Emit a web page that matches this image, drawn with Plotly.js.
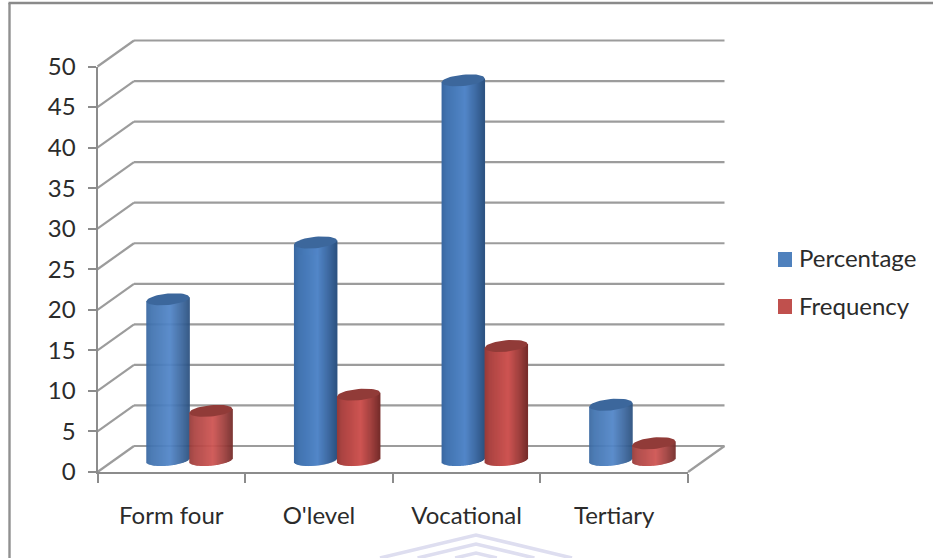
<!DOCTYPE html>
<html><head><meta charset="utf-8">
<script src="https://cdn.plot.ly/plotly-3.0.1.min.js"></script>
<style>html,body{margin:0;padding:0;background:#fff}</style>
</head><body><div id="chart" style="width:933px;height:558px"></div>
<script>
var categories = ["Form four", "O'level", "Vocational", "Tertiary"];
var percentage = [20, 27, 47, 7];
var frequency = [6, 8, 14, 2];
var yTicks = [0,5,10,15,20,25,30,35,40,45,50];

var W=933,H=558,L=97.5,R=688,T=66.5,B=472;
var pxX=(R-L)/4, pxY=(B-T)/50;
function ux(px){return px/pxX;}
function uy(px){return px/pxY;}
var gridColor='#9c9c9c', axisColor='#8c8c8c';
var traces=[];

// depth walls, drawn on a hidden pair of axes that shares the front scale but has room for the depth offset
var depthX=36.5, depthY=26, pad=6;
var backDx=ux(depthX), backDy=uy(depthY);
var gx=[],gy=[],dx=[],dy=[];
yTicks.forEach(function(t,i){
  gx.push(-0.5+backDx, 3.5+backDx, null); gy.push(t+backDy,t+backDy,null);
  dx.push(-0.5,-0.5+backDx,null); dy.push(t,t+backDy,null);
});
dx.push(3.5,3.5+backDx,null); dy.push(0,backDy,null);
var common={type:'scatter',mode:'lines',xaxis:'x',yaxis:'y',hoverinfo:'skip',showlegend:false};
traces.push(Object.assign({},common,{x:gx,y:gy,line:{color:gridColor,width:2.2}}));
traces.push(Object.assign({},common,{x:dx,y:dy,line:{color:gridColor,width:2.2}}));

// cylinders
var floorDy=uy(12);
var bPx=5.7, tiltPx=2, strips=43;
function lerp(a,b,t){return a+(b-a)*t;}
function shade(stops,t){
  for(var i=1;i<stops.length;i++){ if(t<=stops[i][0]){
    var s=stops[i-1],e=stops[i],k=(t-s[0])/(e[0]-s[0]);
    return 'rgb('+[1,2,3].map(function(j){return Math.round(lerp(s[j],e[j],k));}).join(',')+')';
  }}
  var l=stops[stops.length-1]; return 'rgb('+l[1]+','+l[2]+','+l[3]+')';
}
var blueStops=[[0,58,104,160],[0.12,66,116,176],[0.55,82,134,200],[0.8,62,106,162],[1,44,82,128]];
var redStops=[[0,150,58,56],[0.12,172,68,66],[0.55,206,84,82],[0.8,160,64,62],[1,118,44,42]];
function addSeries(values,stops,topColor,startPx,topDropPx){
  var topDrop=uy(topDropPx);
  for(var s=0;s<strips;s++){
    var t=(s+0.5)/strips, u=2*t-1;
    var lower=-bPx*Math.sqrt(1-u*u)+tiltPx*u;
    var bases=values.map(function(){return floorDy+uy(lower);});
    var tops=values.map(function(v,i){return v+floorDy-topDrop+uy(tiltPx*u)-bases[i];});
    traces.push({type:'bar',x:categories,y:tops,base:bases,xaxis:'x2',yaxis:'y2',
      offset:ux(startPx+s*43/strips+18),width:ux(1.5),
      marker:{color:shade(stops,t),line:{width:0}},cliponaxis:false,
      hoverinfo:'skip',showlegend:false});
  }
  values.forEach(function(v,i){
    var cx=[],cy=[];
    for(var k=0;k<=48;k++){
      var th=k/48*2*Math.PI, cu=Math.cos(th), su=Math.sin(th);
      cx.push(i+ux(startPx+18+21.5+21.5*cu));
      cy.push(v+floorDy-topDrop+uy(bPx*su+tiltPx*cu));
    }
    traces.push({type:'scatter',mode:'lines',x:cx,y:cy,fill:'toself',
      fillcolor:topColor,line:{width:0,color:topColor},xaxis:'x3',yaxis:'y3',hoverinfo:'skip',showlegend:false});
  });
}
addSeries(percentage,blueStops,'#3c679c',-43,1.5);
addSeries(frequency,redStops,'#913b38',0,-0.5);

function chevron(apex){
  var bottom=558, half=(bottom-apex)*(96/23);
  return {type:'path',xref:'paper',yref:'paper',layer:'below',
    path:'M '+(476-half)/W+' 0 L '+476/W+' '+(1-apex/H)+' L '+(476+half)/W+' 0',
    line:{color:'#dedef0',width:3.5}};
}
var shapes=[
 {type:'line',xref:'paper',yref:'paper',x0:9.5/W,x1:9.5/W,y0:0,y1:1-3/H,line:{color:'#909090',width:2.4}},
 {type:'line',xref:'paper',yref:'paper',x0:8.5/W,x1:1,y0:1-3/H,y1:1-3/H,line:{color:'#8a8a8a',width:2.4}},
 {type:'rect',xref:'paper',yref:'paper',x0:778/W,x1:792/W,y0:1-267/H,y1:1-252/H,line:{width:0},fillcolor:'#4f81bd'},
 {type:'rect',xref:'paper',yref:'paper',x0:778/W,x1:792/W,y0:1-314/H,y1:1-299/H,line:{width:0},fillcolor:'#c0504d'},
 chevron(535),chevron(544),chevron(553)
];
var font={family:'Lato, sans-serif',size:24,color:'#2b2b2b'};
var annotations=[
 {text:'Percentage',xref:'paper',yref:'paper',x:797/W,y:1-257.5/H,xanchor:'left',yanchor:'middle',showarrow:false,font:font},
 {text:'Frequency',xref:'paper',yref:'paper',x:797/W,y:1-305/H,xanchor:'left',yanchor:'middle',showarrow:false,font:font}
];
function hiddenX(anchor){return {domain:[(L-pad)/W,(R+depthX+pad)/W],range:[-0.5-ux(pad),3.5+backDx+ux(pad)],visible:false,anchor:anchor};}
function hiddenY(anchor){return {domain:[1-(B+pad)/H,1-(T-depthY-pad)/H],range:[-uy(pad),50+backDy+uy(pad)],visible:false,anchor:anchor};}
var layout={width:W,height:H,margin:{l:0,r:0,t:0,b:0},paper_bgcolor:'#fff',plot_bgcolor:'rgba(0,0,0,0)',
 barmode:'overlay',showlegend:false,shapes:shapes,annotations:annotations,font:font,
 xaxis:hiddenX('y'),yaxis:hiddenY('x'),
 xaxis2:{domain:[L/W,R/W],anchor:'y2',type:'category',categoryarray:categories,range:[-0.5,3.5],tickson:'boundaries',
   ticks:'outside',ticklen:9,tickwidth:2,tickcolor:axisColor,showline:true,linecolor:axisColor,linewidth:2,showgrid:false,
   zeroline:false,tickfont:font,ticklabelstandoff:21,automargin:false},
 yaxis2:{domain:[1-B/H,1-T/H],anchor:'x2',range:[0,50],tickvals:yTicks,ticks:'outside',ticklen:8,tickwidth:2,tickcolor:axisColor,
   showline:true,linecolor:axisColor,linewidth:2,showgrid:false,zeroline:false,tickfont:font,ticklabelstandoff:7,automargin:false},
 xaxis3:hiddenX('y3'),yaxis3:hiddenY('x3')
};
Plotly.newPlot('chart',traces,layout,{displayModeBar:false,staticPlot:true});
</script></body></html>
